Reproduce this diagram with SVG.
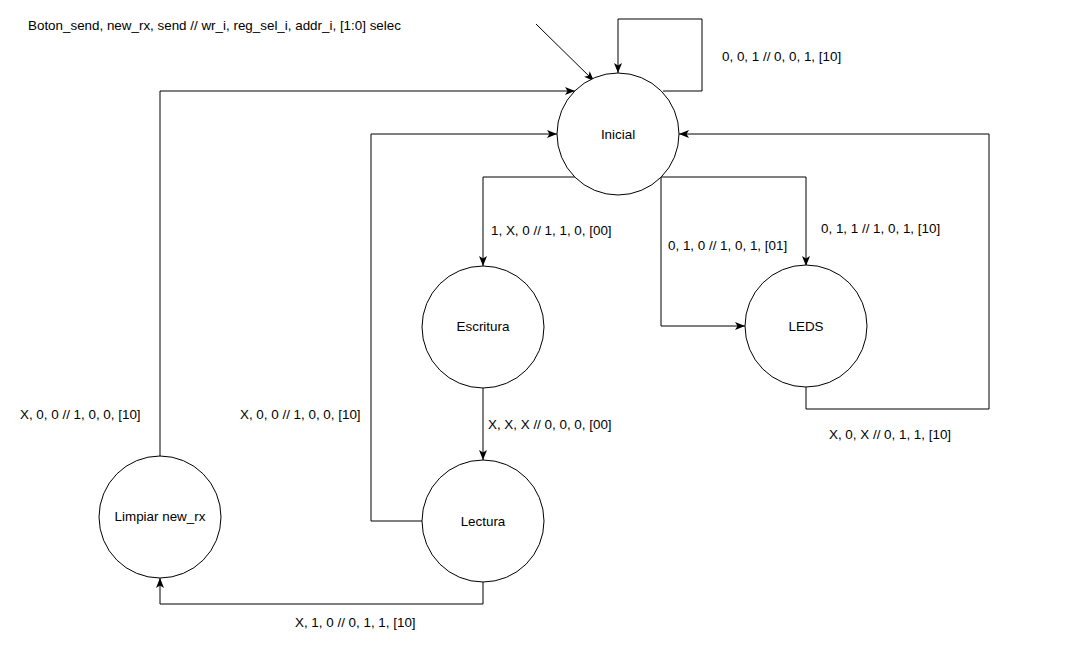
<svg xmlns="http://www.w3.org/2000/svg" width="1067" height="651" viewBox="0 0 1067 651">
<defs>
<style>
.node circle{fill:#fff;stroke:#000;stroke-width:1}
.node text,.lbl{font-family:"Liberation Sans",Arial,sans-serif;font-size:13.4px;fill:#000}
.node text{text-anchor:middle}
.edge{fill:none;stroke:#000;stroke-width:1}
</style>
<marker id="arr" viewBox="0 0 10 8" refX="10" refY="4" markerWidth="10" markerHeight="8" markerUnits="userSpaceOnUse" orient="auto">
<path d="M0,0 L10,4 L0,8 L2.5,4 z" fill="#000"/>
</marker>
</defs>
<rect width="1067" height="651" fill="#fff"/>
<g id="connectors">
<path class="edge" d="M536,24 L594,81" marker-end="url(#arr)"/>
<path class="edge" d="M663,91 L702,91 L702,19 L618,19 L618,73" marker-end="url(#arr)"/>
<path class="edge" d="M575,177 L483,177 L483,266" marker-end="url(#arr)"/>
<path class="edge" d="M661,177 L806,177 L806,266" marker-end="url(#arr)"/>
<path class="edge" d="M661,177 L661,326 L745,326" marker-end="url(#arr)"/>
<path class="edge" d="M806,387 L806,409 L989,409 L989,134 L679,134" marker-end="url(#arr)"/>
<path class="edge" d="M483,388 L483,460" marker-end="url(#arr)"/>
<path class="edge" d="M422,521 L371,521 L371,134 L557,134" marker-end="url(#arr)"/>
<path class="edge" d="M483,582 L483,604 L160,604 L160,578" marker-end="url(#arr)"/>
<path class="edge" d="M160,456 L160,91 L575,91" marker-end="url(#arr)"/>
</g>
<g id="labels">
<text class="lbl" x="28" y="30">Boton_send, new_rx, send // wr_i, reg_sel_i, addr_i, [1:0] selec</text>
<text class="lbl" x="722" y="61">0, 0, 1 // 0, 0, 1, [10]</text>
<text class="lbl" x="491" y="235">1, X, 0 // 1, 1, 0, [00]</text>
<text class="lbl" x="668" y="250">0, 1, 0 // 1, 0, 1, [01]</text>
<text class="lbl" x="821" y="233">0, 1, 1 // 1, 0, 1, [10]</text>
<text class="lbl" x="829" y="439">X, 0, X // 0, 1, 1, [10]</text>
<text class="lbl" x="20" y="419">X, 0, 0 // 1, 0, 0, [10]</text>
<text class="lbl" x="240" y="419">X, 0, 0 // 1, 0, 0, [10]</text>
<text class="lbl" x="488" y="429">X, X, X // 0, 0, 0, [00]</text>
<text class="lbl" x="295" y="627">X, 1, 0 // 0, 1, 1, [10]</text>
</g>
<g id="inicial" class="node"><circle cx="618" cy="134" r="61"/><text x="618" y="139">Inicial</text></g>
<g id="escritura" class="node"><circle cx="483" cy="327" r="61"/><text x="483" y="331">Escritura</text></g>
<g id="leds" class="node"><circle cx="806" cy="326" r="61"/><text x="806" y="331">LEDS</text></g>
<g id="lectura" class="node"><circle cx="483" cy="521" r="61"/><text x="483" y="526">Lectura</text></g>
<g id="limpiar" class="node"><circle cx="160" cy="517" r="61"/><text x="160" y="521">Limpiar new_rx</text></g>
</svg>
